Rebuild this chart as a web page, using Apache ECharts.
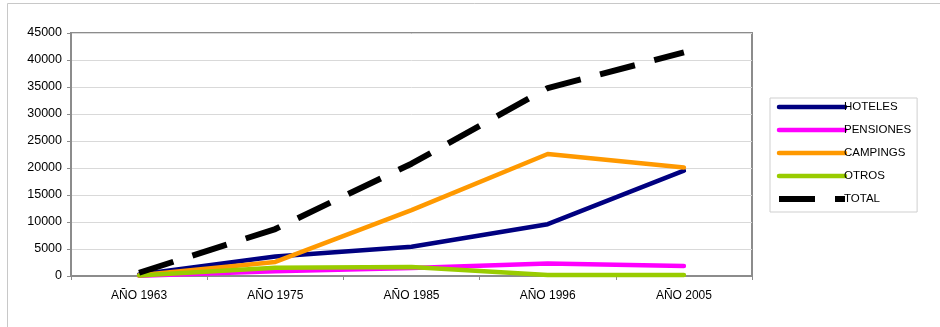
<!DOCTYPE html>
<html>
<head>
<meta charset="utf-8">
<script src="https://cdn.jsdelivr.net/npm/echarts@6/dist/echarts.min.js"></script>
<style>
  html, body { margin: 0; padding: 0; background: #fff; }
  #chart { width: 940px; height: 327px; }
</style>
</head>
<body>
<div id="chart"></div>
<script>
// Plazas de alojamiento por tipo y año
const categories = ['AÑO 1963', 'AÑO 1975', 'AÑO 1985', 'AÑO 1996', 'AÑO 2005'];
const hoteles    = [300, 3600, 5400, 9600, 19500];
const pensiones  = [50, 900, 1500, 2300, 1850];
const campings   = [150, 2600, 12200, 22600, 20100];
const otros      = [100, 1550, 1650, 200, 200];
const total      = [600, 8700, 20800, 34800, 41400];
const yTicks     = { min: 0, max: 45000, interval: 5000 };

const font = 'Liberation Sans, Arial, sans-serif';
const colors = {
  HOTELES: '#000080',
  PENSIONES: '#ff00ff',
  CAMPINGS: '#ff9900',
  OTROS: '#99cc00',
  TOTAL: '#000000'
};
const totalDash = [36, 20];

function lineSeries(name, data, extra) {
  return Object.assign({
    name: name,
    type: 'line',
    data: data,
    symbol: 'none',
    lineStyle: { color: colors[name], width: 4.5, cap: 'round', join: 'round' },
    itemStyle: { color: colors[name] }
  }, extra || {});
}

function legendItem(name) {
  const isTotal = name === 'TOTAL';
  return {
    name: name,
    itemStyle: { opacity: 0 },
    lineStyle: {
      color: colors[name],
      width: isTotal ? 6 : 4.5,
      type: isTotal ? totalDash : 'solid',
      cap: isTotal ? 'butt' : 'round'
    }
  };
}

const chart = echarts.init(document.getElementById('chart'), null, { renderer: 'canvas' });
chart.setOption({
  animation: false,
  backgroundColor: '#ffffff',
  graphic: [{
    type: 'rect',
    shape: { x: 7.5, y: 3.5, width: 1000, height: 400 },
    style: { fill: 'none', stroke: '#c8c8c8', lineWidth: 1 },
    silent: true,
    z: -10
  }],
  grid: {
    left: 71, top: 33, width: 681, height: 243,
    show: true, borderColor: '#8c8c8c', borderWidth: 2,
    backgroundColor: 'transparent'
  },
  legend: {
    left: 770, top: 98,
    orient: 'vertical',
    itemWidth: 66, itemHeight: 14, itemGap: 11,
    padding: [3, 6, 7, 6],
    borderColor: '#cfcfcf', borderWidth: 1,
    itemStyle: { opacity: 0 },
    textStyle: { fontFamily: font, fontSize: 11.5, color: '#000', padding: [0, 0, 0, -6] },
    data: ['HOTELES', 'PENSIONES', 'CAMPINGS', 'OTROS', 'TOTAL'].map(legendItem)
  },
  xAxis: {
    type: 'category',
    data: categories,
    boundaryGap: true,
    axisLine: { show: true, lineStyle: { color: '#8c8c8c', width: 2 } },
    axisTick: { show: true, length: 4, lineStyle: { color: '#8c8c8c' } },
    axisLabel: { fontFamily: font, fontSize: 12, color: '#000', margin: 14 },
    splitLine: { show: false }
  },
  yAxis: {
    type: 'value',
    min: yTicks.min, max: yTicks.max, interval: yTicks.interval,
    axisLine: { show: true, lineStyle: { color: '#8c8c8c', width: 2 } },
    axisTick: { show: true, length: 4, lineStyle: { color: '#8c8c8c' } },
    axisLabel: { fontFamily: font, fontSize: 12.5, color: '#000', margin: 9, formatter: v => String(v) },
    splitLine: { show: true, lineStyle: { color: '#d9d9d9', width: 1 } }
  },
  series: [
    lineSeries('HOTELES', hoteles),
    lineSeries('PENSIONES', pensiones),
    lineSeries('CAMPINGS', campings),
    lineSeries('OTROS', otros),
    lineSeries('TOTAL', total, {
      lineStyle: { color: colors.TOTAL, width: 6, type: totalDash, cap: 'butt', join: 'round' }
    })
  ]
});
</script>
</body>
</html>
